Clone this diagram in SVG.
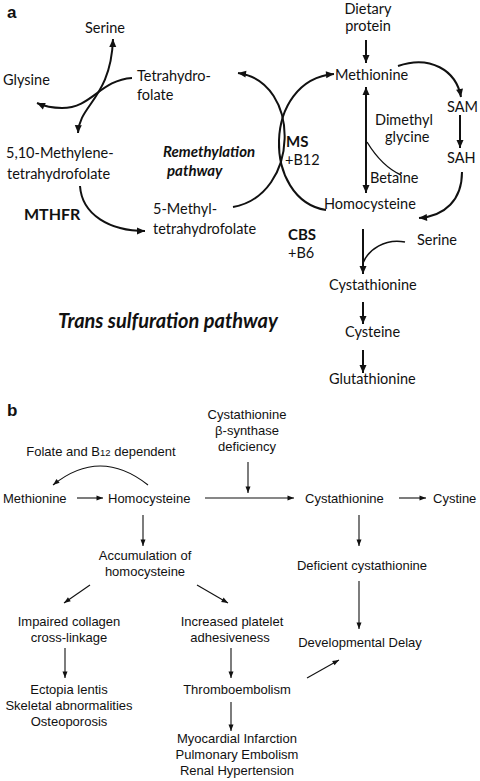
<svg xmlns="http://www.w3.org/2000/svg" width="480" height="781" viewBox="0 0 480 781">
<style>
.a{font-family:Lato,"Open Sans","Liberation Sans",sans-serif;font-size:14.5px;fill:#111}
.ab{font-family:Lato,"Open Sans","Liberation Sans",sans-serif;font-size:15px;font-weight:bold;fill:#111}
.abi{font-family:Lato,"Open Sans","Liberation Sans",sans-serif;font-size:15px;font-weight:bold;font-style:italic;fill:#111}
.b{font-family:"Liberation Sans",Arial,sans-serif;font-size:13px;fill:#111}
.lab{font-family:"Liberation Sans",Arial,sans-serif;font-size:17px;font-weight:bold;fill:#111}
.ca{fill:none;stroke:#111;stroke-width:2}
.cb{fill:none;stroke:#111;stroke-width:1.1}
.m{text-anchor:middle}
</style>
<defs>
<marker id="ha" markerUnits="userSpaceOnUse" markerWidth="10" markerHeight="10" viewBox="0 0 10 10" refX="9" refY="5" orient="auto-start-reverse"><path d="M1,1.5 L9,5 L1,8.5 Z" fill="#111"/></marker>
<marker id="hb" markerUnits="userSpaceOnUse" markerWidth="8" markerHeight="8" viewBox="0 0 8 8" refX="7.5" refY="4" orient="auto-start-reverse"><path d="M1,1.5 L7.5,4 L1,6.5 Z" fill="#111"/></marker>
</defs>
<rect width="480" height="781" fill="#fff"/>

<text class="lab" x="7" y="18">a</text>
<text class="lab" x="7" y="416">b</text>

<g id="connectors">
<!-- part a -->
<path class="ca" d="M78,133 C79,105 111,98 113,39" marker-start="url(#ha)" marker-end="url(#ha)"/>
<path class="ca" d="M132,78 C100,80 92,108 62,108 Q48,108 37,103" marker-end="url(#ha)"/>
<path class="ca" d="M80,186 C82,215 110,231 145,231" marker-end="url(#ha)"/>
<path class="ca" d="M233,207 C300,195 302,82 238,73" marker-end="url(#ha)"/>
<path class="ca" d="M326,210 C262,200 262,80 334,74" marker-end="url(#ha)"/>
<path class="ca" d="M366,40 L366,63" marker-end="url(#ha)"/>
<path class="ca" d="M398,66 C430,55 456,70 461,97" marker-end="url(#ha)"/>
<path class="ca" d="M460,115 L460,148" marker-end="url(#ha)"/>
<path class="ca" d="M462,172 C462,200 445,216 419,218" marker-end="url(#ha)"/>
<path class="ca" d="M366,87 L366,193" marker-start="url(#ha)" marker-end="url(#ha)"/>
<path class="cb" d="M367,142 C378,160 390,170 401,175" style="stroke-width:1.4"/>
<path class="ca" d="M363,229 L363,274" marker-end="url(#ha)"/>
<path class="ca" d="M405,242 C385,238 368,250 363,263" style="stroke-width:1.5"/>
<path class="ca" d="M363,302 L363,324" marker-end="url(#ha)"/>
<path class="ca" d="M363,350 L363,373" marker-end="url(#ha)"/>
<!-- part b -->
<path class="cb" d="M148,485 Q100,447 53,485" marker-end="url(#hb)"/>
<path class="cb" d="M77,498 L103,498" marker-end="url(#hb)"/>
<path class="cb" d="M205,498 L294,498" marker-end="url(#hb)"/>
<path class="cb" d="M248,462 L248,493" marker-end="url(#hb)"/>
<path class="cb" d="M399,498 L426,498" marker-end="url(#hb)"/>
<path class="cb" d="M143,515 L143,546" marker-end="url(#hb)"/>
<path class="cb" d="M359,515 L359,546" marker-end="url(#hb)"/>
<path class="cb" d="M359,581 L359,629" marker-end="url(#hb)"/>
<path class="cb" d="M90,585 L64,603" marker-end="url(#hb)"/>
<path class="cb" d="M197,585 L228,603" marker-end="url(#hb)"/>
<path class="cb" d="M65,648 L65,678" marker-end="url(#hb)"/>
<path class="cb" d="M231,648 L231,678" marker-end="url(#hb)"/>
<path class="cb" d="M307,678 L339,660" marker-end="url(#hb)"/>
<path class="cb" d="M231,702 L231,731" marker-end="url(#hb)"/>
</g>

<!-- part a nodes -->
<g id="serine1"><text class="a" x="85" y="33">Serine</text></g>
<g id="glysine"><text class="a" x="3" y="85">Glysine</text></g>
<g id="thf"><text class="a" x="137" y="81">Tetrahydro-</text><text class="a" x="137" y="100">folate</text></g>
<g id="methylene-thf"><text class="a" x="6" y="158">5,10-Methylene-</text><text class="a" x="7" y="179">tetrahydrofolate</text></g>
<g id="remethylation"><text class="abi" x="163" y="157">Remethylation</text><text class="abi" x="167" y="176">pathway</text></g>
<g id="mthfr"><text class="ab" x="24" y="220" style="font-size:16px">MTHFR</text></g>
<g id="methyl-thf"><text class="a" x="153" y="214">5-Methyl-</text><text class="a" x="153" y="234">tetrahydrofolate</text></g>
<g id="dietary"><text class="a m" x="368" y="14">Dietary</text><text class="a m" x="368" y="31">protein</text></g>
<g id="methionine-a"><text class="a" x="335" y="80">Methionine</text></g>
<g id="sam"><text class="a" x="447" y="112">SAM</text></g>
<g id="sah"><text class="a" x="447" y="163">SAH</text></g>
<g id="dimethylglycine"><text class="a" x="375" y="125">Dimethyl</text><text class="a" x="385" y="142">glycine</text></g>
<g id="betaine"><text class="a" x="370" y="183">Betaine</text></g>
<g id="ms"><text class="ab" x="286" y="147">MS</text><text class="a" x="285" y="165">+B12</text></g>
<g id="homocysteine-a"><text class="a" x="324" y="209">Homocysteine</text></g>
<g id="cbs"><text class="ab" x="288" y="240">CBS</text><text class="a" x="288" y="258">+B6</text></g>
<g id="serine2"><text class="a" x="417" y="245">Serine</text></g>
<g id="cystathionine-a"><text class="a" x="329" y="290">Cystathionine</text></g>
<g id="cysteine"><text class="a" x="345" y="337">Cysteine</text></g>
<g id="glutathionine"><text class="a" x="329" y="384">Glutathionine</text></g>
<g id="transsulfuration"><text class="abi" x="58" y="328" style="font-size:20px">Trans sulfuration pathway</text></g>

<!-- part b nodes -->
<g id="cbs-deficiency"><text class="b m" x="247" y="419">Cystathionine</text><text class="b m" x="247" y="435">β-synthase</text><text class="b m" x="247" y="451">deficiency</text></g>
<g id="folate-b12"><text class="b m" x="101" y="456">Folate and B<tspan style="font-size:9.5px">12</tspan> dependent</text></g>
<g id="methionine-b"><text class="b" x="3" y="503">Methionine</text></g>
<g id="homocysteine-b"><text class="b" x="108" y="503">Homocysteine</text></g>
<g id="cystathionine-b"><text class="b" x="305" y="503">Cystathionine</text></g>
<g id="cystine"><text class="b" x="433" y="503">Cystine</text></g>
<g id="accumulation"><text class="b m" x="145" y="560">Accumulation of</text><text class="b m" x="145" y="576">homocysteine</text></g>
<g id="deficient"><text class="b m" x="362" y="570">Deficient cystathionine</text></g>
<g id="collagen"><text class="b m" x="69" y="626">Impaired collagen</text><text class="b m" x="69" y="642">cross-linkage</text></g>
<g id="platelet"><text class="b m" x="232" y="626">Increased platelet</text><text class="b m" x="230" y="642">adhesiveness</text></g>
<g id="developmental"><text class="b m" x="360" y="647">Developmental Delay</text></g>
<g id="ectopia"><text class="b m" x="69" y="694">Ectopia lentis</text><text class="b m" x="69" y="710">Skeletal abnormalities</text><text class="b m" x="69" y="726">Osteoporosis</text></g>
<g id="thromboembolism"><text class="b m" x="237" y="694">Thromboembolism</text></g>
<g id="myocardial"><text class="b m" x="237" y="743">Myocardial Infarction</text><text class="b m" x="237" y="759">Pulmonary Embolism</text><text class="b m" x="237" y="775">Renal Hypertension</text></g>
</svg>
